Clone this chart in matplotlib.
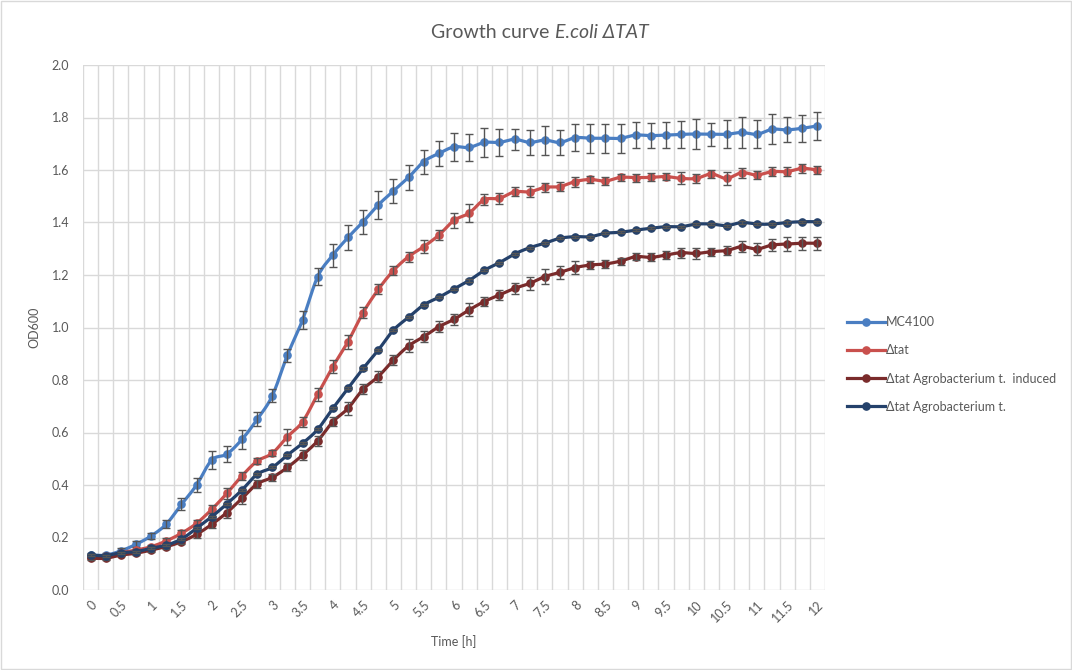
import numpy as np
import matplotlib
matplotlib.use("Agg")
import matplotlib.pyplot as plt
from matplotlib.patches import Rectangle
from matplotlib.lines import Line2D

plt.rcParams['font.family'] = ['Lato', 'DejaVu Sans']

# time points [h]
time = [0, 0.25, 0.5, 0.75, 1, 1.25, 1.5, 1.75, 2, 2.25, 2.5, 2.75, 3, 3.25, 3.5, 3.75,
        4, 4.25, 4.5, 4.75, 5, 5.25, 5.5, 5.75, 6, 6.25, 6.5, 6.75, 7, 7.25, 7.5, 7.75,
        8, 8.25, 8.5, 8.75, 9, 9.25, 9.5, 9.75, 10, 10.25, 10.5, 10.75, 11, 11.25, 11.5,
        11.75, 12]

mc4100 = [0.133, 0.133, 0.149, 0.174, 0.206, 0.251, 0.326, 0.400, 0.495, 0.518,
          0.574, 0.650, 0.740, 0.895, 1.029, 1.194, 1.276, 1.343, 1.403, 1.467,
          1.520, 1.572, 1.632, 1.663, 1.688, 1.686, 1.705,
          1.705, 1.717, 1.705, 1.714, 1.705, 1.723, 1.721, 1.721, 1.721, 1.733,
          1.731, 1.733, 1.736, 1.737, 1.736, 1.736, 1.743, 1.736, 1.755, 1.753,
          1.759, 1.768]
mc4100_err = [0.008, 0.008, 0.010, 0.012, 0.012, 0.016, 0.023, 0.025, 0.034, 0.029,
              0.035, 0.027, 0.025, 0.025, 0.033, 0.032, 0.044, 0.047, 0.046, 0.052,
              0.046, 0.048, 0.046, 0.046, 0.054, 0.053, 0.055,
              0.051, 0.041, 0.046, 0.055, 0.049, 0.052, 0.055, 0.056, 0.055, 0.051,
              0.049, 0.051, 0.052, 0.057, 0.043, 0.054, 0.059, 0.054, 0.057, 0.048,
              0.052, 0.054]

dtat = [0.127, 0.129, 0.142, 0.152, 0.165, 0.187, 0.216, 0.254, 0.307, 0.368,
        0.435, 0.491, 0.521, 0.584, 0.641, 0.746, 0.851, 0.946, 1.057, 1.145,
        1.217, 1.270, 1.308, 1.352, 1.408, 1.436, 1.487,
        1.492, 1.517, 1.517, 1.534, 1.537, 1.556, 1.564, 1.558, 1.572, 1.571,
        1.572, 1.575, 1.568, 1.568, 1.585, 1.568, 1.590, 1.581, 1.594, 1.594,
        1.606, 1.600]
dtat_err = [0.005, 0.005, 0.006, 0.006, 0.008, 0.010, 0.012, 0.012, 0.015, 0.020,
            0.015, 0.012, 0.012, 0.030, 0.019, 0.025, 0.024, 0.027, 0.022, 0.019,
            0.016, 0.019, 0.025, 0.019, 0.029, 0.034, 0.021,
            0.020, 0.017, 0.021, 0.017, 0.017, 0.019, 0.014, 0.015, 0.013, 0.015,
            0.015, 0.013, 0.023, 0.018, 0.015, 0.024, 0.019, 0.014, 0.017, 0.017,
            0.016, 0.016]

induced = [0.121, 0.121, 0.133, 0.140, 0.152, 0.165, 0.184, 0.212, 0.250, 0.295,
           0.349, 0.404, 0.429, 0.467, 0.514, 0.568, 0.641, 0.692, 0.765, 0.813,
           0.876, 0.930, 0.965, 1.003, 1.031, 1.067, 1.099,
           1.124, 1.149, 1.168, 1.194, 1.210, 1.228, 1.238, 1.242, 1.253, 1.270,
           1.267, 1.276, 1.285, 1.282, 1.289, 1.293, 1.308, 1.299, 1.314, 1.318,
           1.321, 1.321]
induced_err = [0.005, 0.005, 0.005, 0.006, 0.008, 0.008, 0.010, 0.012, 0.015, 0.020,
               0.020, 0.016, 0.012, 0.015, 0.020, 0.020, 0.018, 0.025, 0.020, 0.020,
               0.020, 0.025, 0.020, 0.020, 0.022, 0.025, 0.016,
               0.019, 0.020, 0.025, 0.029, 0.024, 0.025, 0.016, 0.015, 0.013, 0.013,
               0.015, 0.015, 0.019, 0.021, 0.015, 0.016, 0.022, 0.022, 0.024, 0.025,
               0.024, 0.025]

agro = [0.133, 0.131, 0.142, 0.146, 0.159, 0.171, 0.194, 0.235, 0.279, 0.328,
        0.381, 0.441, 0.467, 0.514, 0.559, 0.612, 0.692, 0.768, 0.844, 0.914,
        0.990, 1.039, 1.086, 1.115, 1.147, 1.179, 1.218,
        1.247, 1.280, 1.304, 1.321, 1.340, 1.346, 1.346, 1.359, 1.363, 1.371,
        1.378, 1.384, 1.384, 1.394, 1.394, 1.388, 1.400, 1.394, 1.394, 1.400,
        1.403, 1.403]
agro_err = [0.004] * 49

series = [
    ("MC4100", mc4100, mc4100_err, "#4A7EC2"),
    ("Δtat", dtat, dtat_err, "#C9504D"),
    ("Δtat Agrobacterium t.  induced", induced, induced_err, "#7A2B2B"),
    ("Δtat Agrobacterium t.", agro, agro_err, "#24416B"),
]


def smooth(x, y, n=12):
    # catmull-rom through the points, like excel's smoothed line
    x = np.asarray(x, float)
    y = np.asarray(y, float)
    px = np.concatenate([[2 * x[0] - x[1]], x, [2 * x[-1] - x[-2]]])
    py = np.concatenate([[2 * y[0] - y[1]], y, [2 * y[-1] - y[-2]]])
    t = np.linspace(0, 1, n, endpoint=False)
    xs, ys = [], []
    for i in range(1, len(px) - 2):
        for p, out in ((px, xs), (py, ys)):
            p0, p1, p2, p3 = p[i - 1], p[i], p[i + 1], p[i + 2]
            out.extend(0.5 * (2 * p1 + (-p0 + p2) * t
                              + (2 * p0 - 5 * p1 + 4 * p2 - p3) * t ** 2
                              + (-p0 + 3 * p1 - 3 * p2 + p3) * t ** 3))
    xs.append(x[-1])
    ys.append(y[-1])
    return xs, ys


fig = plt.figure(figsize=(10.72, 6.70), dpi=100)
ax = fig.add_axes([83 / 1072, 1 - 590 / 670, 742 / 1072, 525 / 670])

pos = np.arange(len(time))
handles = []
for k, (name, vals, err, col) in enumerate(series):
    sx, sy = smooth(pos, vals)
    ax.plot(sx, sy, color=col, lw=2.3, zorder=3 + k, solid_capstyle='round')
    ax.plot(pos, vals, 'o', color=col, ms=5.2, zorder=3 + k)
    ax.errorbar(pos, vals, yerr=err, fmt='none', ecolor='#555555', elinewidth=1,
                capsize=3, capthick=1, zorder=3.5 + k)
    handles.append(Line2D([], [], color=col, lw=2.3, marker='o', ms=5.2, label=name))

ax.set_xlim(-0.5, len(time) - 0.5)
ax.set_ylim(0, 2.0)
ax.set_yticks(np.arange(0, 2.01, 0.2))
ax.set_yticklabels([f"{v:.1f}" for v in np.arange(0, 2.01, 0.2)])
ax.set_xticks(pos[::2])
ax.set_xticklabels([f"{t:g}" for t in time[::2]], rotation=45, ha='right',
                   rotation_mode='anchor')
ax.set_xticks(np.arange(-0.5, len(time), 1), minor=True)
ax.grid(True, which='minor', axis='x', color='#D9D9D9', lw=1)
ax.grid(True, which='major', axis='y', color='#D9D9D9', lw=1)
ax.tick_params(which='both', length=0, labelsize=9, colors='#595959')
ax.tick_params(axis='x', pad=6)
ax.tick_params(axis='y', pad=10)
for s in ax.spines.values():
    s.set_visible(False)
ax.set_axisbelow(True)

ax.set_ylabel("OD600", fontsize=9, color='#595959', labelpad=8)
ax.set_xlabel("Time [h]", fontsize=9, color='#595959', labelpad=8)

fig.text(549 / 1072, 1 - 32 / 670, "Growth curve", ha='right', va='center',
         fontsize=14, color='#595959')
fig.text(555 / 1072, 1 - 32 / 670, "E.coli ΔTAT", ha='left', va='center',
         fontsize=14, color='#595959', style='italic')

fig.legend(handles=handles, loc='upper left', bbox_to_anchor=(842 / 1072, 1 - 311 / 670),
           frameon=False, fontsize=9, handlelength=3.0, handletextpad=0.1,
           labelspacing=1.3, labelcolor='#595959', borderaxespad=0)

fig.patches.append(Rectangle((0.001, 0.002), 0.998, 0.996, transform=fig.transFigure,
                             fill=False, edgecolor='#D9D9D9', lw=1))

fig.savefig("out.png", dpi=100)
